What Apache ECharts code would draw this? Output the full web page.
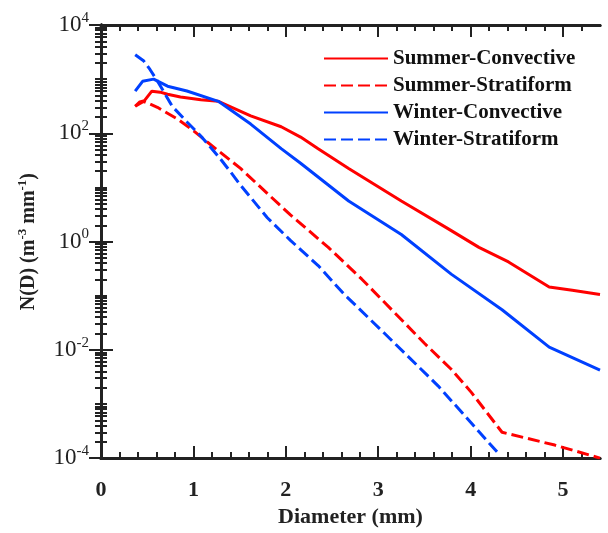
<!DOCTYPE html>
<html>
<head>
    <meta charset="UTF-8">
    <title>N(D) spectra</title>
    <script src="https://cdn.jsdelivr.net/npm/echarts@6/dist/echarts.min.js"></script>
    <style>
        html, body { margin: 0; padding: 0; background: #fff; }
        #chart { width: 608px; height: 533px; }
    </style>
</head>
<body>
<div id="chart"></div>
<script>
    // 数据：直径 (mm) 与 N(D) (m^-3 mm^-1)
    var seriesNames = ['Summer-Convective', 'Summer-Stratiform', 'Winter-Convective', 'Winter-Stratiform'];

    var scD = [0.37, 0.42, 0.47, 0.55, 0.64, 0.72, 0.86, 1.08, 1.27, 1.62, 1.95, 2.16, 2.35, 2.68, 3.25, 3.75, 4.09, 4.41, 4.85, 5.1, 5.4];
    var scN = [316, 380, 400, 600, 575, 525, 468, 417, 389, 209, 132, 85, 52, 22.4, 5.6, 1.75, 0.78, 0.42, 0.145, 0.126, 0.105];

    var ssD = [0.37, 0.46, 0.61, 0.83, 1.0, 1.15, 1.40, 1.51, 2.05, 2.46, 2.82, 3.17, 3.5, 3.79, 4.01, 4.34, 4.91, 5.4];
    var ssN = [316, 389, 302, 182, 112, 69, 31.6, 22.4, 3.1, 0.78, 0.204, 0.050, 0.0132, 0.00437, 0.00162, 0.0003, 0.000174, 0.0001];

    var wcD = [0.37, 0.45, 0.57, 0.72, 0.93, 1.27, 1.62, 1.95, 2.16, 2.68, 3.25, 3.79, 4.34, 4.85, 5.4];
    var wcN = [600, 912, 1000, 741, 603, 389, 148, 52, 28, 5.6, 1.35, 0.25, 0.055, 0.0112, 0.0042];

    var wsD = [0.37, 0.46, 0.53, 0.62, 0.77, 0.93, 1.08, 1.29, 1.40, 1.51, 1.80, 2.05, 2.35, 2.63, 3.07, 3.65, 4.32];
    var wsN = [2820, 2190, 1510, 871, 316, 162, 89, 34, 19.5, 11, 2.75, 1.05, 0.36, 0.107, 0.020, 0.00214, 0.000112];

    // 刻度
    var xMajorTicks = [0, 1, 2, 3, 4, 5];
    var xMinorTicks = [0.2, 0.4, 0.6, 0.8, 1.2, 1.4, 1.6, 1.8, 2.2, 2.4, 2.6, 2.8, 3.2, 3.4, 3.6, 3.8,
        4.2, 4.4, 4.6, 4.8, 5.2];
    var yLabelTicks = [1e-4, 1e-2, 1, 1e2, 1e4];
    var yMinorTicks = [];
    for (var e = -4; e < 4; e++) {
        for (var m = 2; m <= 10; m++) {
            if (m === 10 && (e + 1) % 2 === 0) continue; // 偶数次幂用长刻度
            yMinorTicks.push(m * Math.pow(10, e));
        }
    }

    function pairs(xs, ys) {
        return xs.map(function (x, i) { return [x, ys[i]]; });
    }

    var font = 'Liberation Serif';
    var axisLine = { show: true, lineStyle: { color: '#222', width: 3 } };

    function xAxisCfg(pos, major, withLabel) {
        return {
            type: 'value', position: pos, min: 0, max: 5.4, interval: 1,
            axisLine: axisLine,
            splitLine: { show: false },
            axisTick: {
                show: true, inside: true, length: major ? 12 : 6,
                customValues: major ? xMajorTicks : xMinorTicks,
                lineStyle: { color: '#222', width: 2 }
            },
            axisLabel: {
                show: withLabel, customValues: xMajorTicks, margin: 21,
                fontFamily: font, fontWeight: 'bold', fontSize: 22, color: '#222'
            },
            name: withLabel ? 'Diameter (mm)' : '',
            nameLocation: 'middle', nameGap: 47,
            nameTextStyle: { fontFamily: font, fontWeight: 'bold', fontSize: 22, color: '#222' }
        };
    }

    function yAxisCfg(pos, major, withLabel) {
        return {
            type: 'log', logBase: 10, position: pos, min: 1e-4, max: 1e4,
            axisLine: axisLine,
            splitLine: { show: false },
            axisTick: {
                show: true, inside: true, length: major ? 12 : 6,
                customValues: major ? yLabelTicks : yMinorTicks,
                lineStyle: { color: '#222', width: 2 }
            },
            axisLabel: {
                show: withLabel, customValues: yLabelTicks, margin: 12,
                formatter: function (v) {
                    return '{b|10}{s|' + Math.round(Math.log10(v)) + '}';
                },
                rich: {
                    b: { fontFamily: font, fontSize: 23, color: '#222' },
                    s: { fontFamily: font, fontSize: 15, color: '#222', padding: [0, 0, 14, 0] }
                }
            },
            name: withLabel ? '{t|N(D) (m}{s|-3}{t| mm}{s|-1}{t|)}' : '',
            nameLocation: 'middle', nameGap: 60, nameRotate: 90,
            nameTextStyle: {
                rich: {
                    t: { fontFamily: font, fontWeight: 'bold', fontSize: 20, color: '#222' },
                    s: { fontFamily: font, fontWeight: 'bold', fontSize: 13, color: '#222', padding: [0, 0, 12, 0] }
                }
            }
        };
    }

    function lineSeries(name, data, color, dashed) {
        return {
            name: name, type: 'line', data: data,
            xAxisIndex: 0, yAxisIndex: 0,
            showSymbol: false, symbol: 'none',
            lineStyle: { color: color, width: 3, type: dashed ? [12, 5] : 'solid' },
            itemStyle: { color: color },
            clip: true
        };
    }

    var myChart = echarts.init(document.getElementById('chart'));
    var option = {
        animation: false,
        backgroundColor: '#fff',
        grid: { left: 101, right: 8, top: 25, bottom: 70, containLabel: false },
        legend: {
            orient: 'vertical', left: 323, top: 48, padding: 0,
            itemWidth: 64, itemHeight: 14, itemGap: 6,
            data: seriesNames,
            itemStyle: { opacity: 0 },
            textStyle: { fontFamily: font, fontWeight: 'bold', fontSize: 21, lineHeight: 21, color: '#111' }
        },
        xAxis: [
            xAxisCfg('bottom', true, true),
            xAxisCfg('bottom', false, false),
            xAxisCfg('top', true, false),
            xAxisCfg('top', false, false)
        ],
        yAxis: [
            yAxisCfg('left', true, true),
            yAxisCfg('left', false, false),
            yAxisCfg('right', true, false),
            yAxisCfg('right', false, false)
        ],
        series: [
            lineSeries(seriesNames[0], pairs(scD, scN), '#ff0000', false),
            lineSeries(seriesNames[1], pairs(ssD, ssN), '#ff0000', true),
            lineSeries(seriesNames[2], pairs(wcD, wcN), '#0040ff', false),
            lineSeries(seriesNames[3], pairs(wsD, wsN), '#0040ff', true)
        ]
    };
    myChart.setOption(option);
</script>
</body>
</html>
